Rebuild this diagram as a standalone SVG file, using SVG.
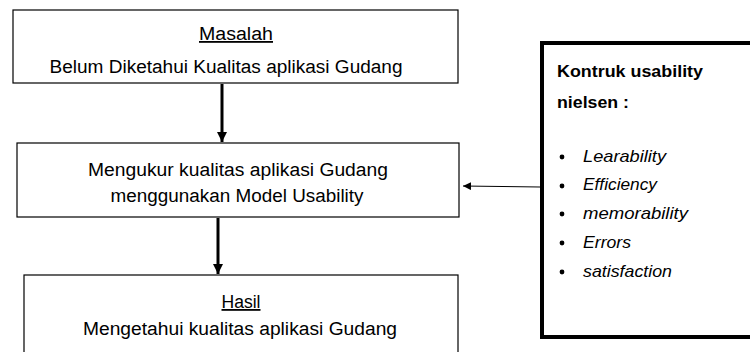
<svg xmlns="http://www.w3.org/2000/svg" width="750" height="352" viewBox="0 0 750 352">
<style>
.box{fill:#fff;stroke:#000;stroke-width:1.2}
.t{font-family:"Liberation Sans",Arial,sans-serif;font-size:18px;fill:#000;text-anchor:middle}
.r{font-family:"Liberation Sans",Arial,sans-serif;font-size:16.5px;fill:#000}
.b{font-weight:bold}
.i{font-style:italic}
</style>
<defs>
<marker id="ah" viewBox="0 0 10 10" refX="10" refY="5" markerWidth="3.4" markerHeight="3.4" orient="auto" markerUnits="strokeWidth"><path d="M0,0 L10,5 L0,10 z" fill="#000"/></marker>
<marker id="ah2" viewBox="0 0 10 10" refX="10" refY="5" markerWidth="8" markerHeight="8" orient="auto" markerUnits="strokeWidth"><path d="M0,0 L10,5 L0,10 z" fill="#000"/></marker>
</defs>
<g id="connectors">
<line x1="222" y1="84" x2="222" y2="142" stroke="#000" stroke-width="3" marker-end="url(#ah)"/>
<line x1="218" y1="218" x2="218" y2="274" stroke="#000" stroke-width="3" marker-end="url(#ah)"/>
<line x1="540" y1="187" x2="463" y2="186" stroke="#000" stroke-width="1" marker-end="url(#ah2)"/>
</g>
<g id="masalah">
<rect class="box" x="13" y="10" width="445" height="73"/>
<text class="t" x="236" y="40" textLength="74" lengthAdjust="spacingAndGlyphs" text-decoration="underline">Masalah</text>
<text class="t" x="226" y="73" textLength="353" lengthAdjust="spacingAndGlyphs">Belum Diketahui Kualitas aplikasi Gudang</text>
</g>
<g id="mengukur">
<rect class="box" x="17" y="143" width="442" height="74"/>
<text class="t" x="238" y="176" textLength="300" lengthAdjust="spacingAndGlyphs">Mengukur kualitas aplikasi Gudang</text>
<text class="t" x="237" y="202" textLength="253" lengthAdjust="spacingAndGlyphs">menggunakan Model Usability</text>
</g>
<g id="hasil">
<rect class="box" x="24" y="275" width="434" height="90"/>
<text class="t" x="241" y="308" textLength="39" lengthAdjust="spacingAndGlyphs" text-decoration="underline">Hasil</text>
<text class="t" x="240" y="335" textLength="314" lengthAdjust="spacingAndGlyphs">Mengetahui kualitas aplikasi Gudang</text>
</g>
<g id="kontruk">
<rect x="542" y="43" width="220" height="294" fill="#fff" stroke="#000" stroke-width="4"/>
<text class="r b" x="557" y="77" textLength="146" lengthAdjust="spacingAndGlyphs">Kontruk usability</text>
<text class="r b" x="557" y="108" textLength="72" lengthAdjust="spacingAndGlyphs">nielsen :</text>
<g class="r">
<circle cx="562" cy="157" r="2.4"/>
<circle cx="562" cy="186" r="2.4"/>
<circle cx="562" cy="214" r="2.4"/>
<circle cx="562" cy="243" r="2.4"/>
<circle cx="562" cy="272" r="2.4"/>
<text class="i" x="583" y="162" textLength="83" lengthAdjust="spacingAndGlyphs">Learability</text>
<text class="i" x="583" y="190" textLength="74" lengthAdjust="spacingAndGlyphs">Efficiency</text>
<text class="i" x="583" y="219" textLength="105" lengthAdjust="spacingAndGlyphs">memorability</text>
<text class="i" x="583" y="248" textLength="48" lengthAdjust="spacingAndGlyphs">Errors</text>
<text class="i" x="583" y="277" textLength="89" lengthAdjust="spacingAndGlyphs">satisfaction</text>
</g>
</g>
</svg>
